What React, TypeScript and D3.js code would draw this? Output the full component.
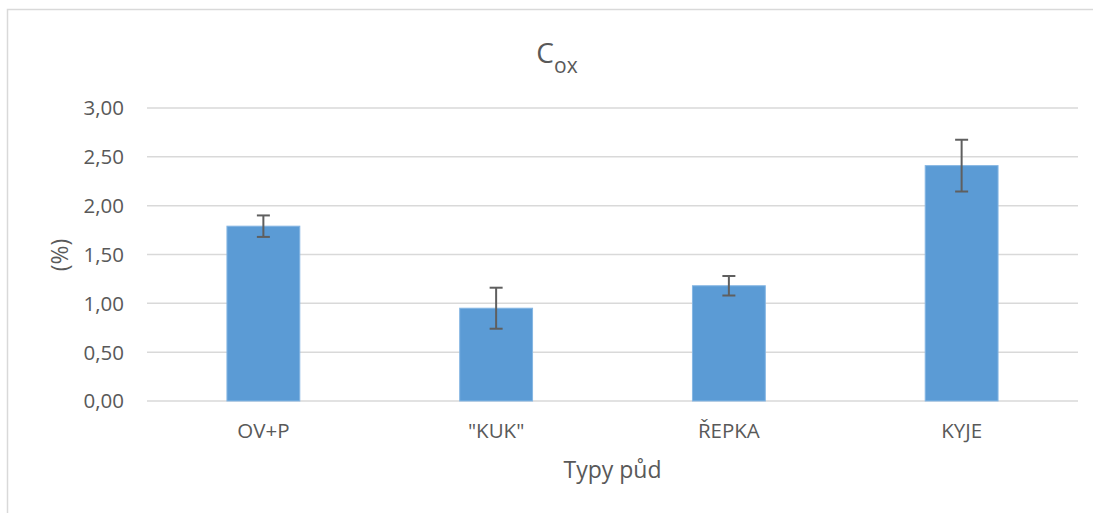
import React from "react";
import * as d3 from "d3";

const categories = ["OV+P", "\"KUK\"", "ŘEPKA", "KYJE"];
const values = [1.79, 0.95, 1.18, 2.41];
const errors = [0.11, 0.21, 0.10, 0.265];
const yTicks = [0, 0.5, 1, 1.5, 2, 2.5, 3];

const W = 1093;
const H = 513;
const FONT = "'Open Sans', 'Liberation Sans', sans-serif";
const TXT = "#595959";

export default function App() {
  const x = d3
    .scaleBand<string>()
    .domain(categories)
    .range([147, 1078])
    .paddingInner(0.687)
    .paddingOuter(0.3435);
  const y = d3.scaleLinear().domain([0, 3]).range([401, 108]);
  const fmt = (v: number) => d3.format(".2f")(v).replace(".", ",");

  return (
    <svg
      width={W}
      height={H}
      style={{ position: "absolute", left: 0, top: 0, background: "#fff" }}
      fontFamily={FONT}
    >
      <rect x={0} y={0} width={W} height={H} fill="#fff" />
      {/* chart frame */}
      <path d={`M7.5,${H} V9.5 H${W + 2}`} fill="none" stroke="#d9d9d9" strokeWidth={1.5} />

      {/* title */}
      <text x={557} y={63} textAnchor="middle" fill={TXT} fontSize={28}>
        C<tspan fontSize={21} dy={10}>ox</tspan>
      </text>

      {/* gridlines */}
      {yTicks.map((t) => (
        <line
          key={t}
          x1={147}
          x2={1078}
          y1={y(t)}
          y2={y(t)}
          stroke="#d9d9d9"
          strokeWidth={1.5}
        />
      ))}
      {yTicks.map((t) => (
        <text
          key={"l" + t}
          x={124}
          y={y(t)}
          dy="0.36em"
          textAnchor="end"
          fill={TXT}
          fontSize={20.5}
        >
          {fmt(t)}
        </text>
      ))}

      {/* bars */}
      {categories.map((c, i) => (
        <rect
          key={c}
          x={x(c)}
          y={y(values[i])}
          width={x.bandwidth()}
          height={y(0) - y(values[i])}
          fill="#5b9bd5"
          stroke="#85b6e3"
          strokeWidth={1}
        />
      ))}

      {/* error bars */}
      {categories.map((c, i) => {
        const cx = (x(c) as number) + x.bandwidth() / 2;
        const top = y(values[i] + errors[i]);
        const bot = y(values[i] - errors[i]);
        return (
          <g key={"e" + c} stroke="#5f5f5f" strokeWidth={2}>
            <line x1={cx} x2={cx} y1={top} y2={bot} />
            <line x1={cx - 6.5} x2={cx + 6.5} y1={top} y2={top} />
            <line x1={cx - 6.5} x2={cx + 6.5} y1={bot} y2={bot} />
          </g>
        );
      })}

      {/* x labels */}
      {categories.map((c) => (
        <text
          key={"x" + c}
          x={(x(c) as number) + x.bandwidth() / 2}
          y={438}
          textAnchor="middle"
          fill={TXT}
          fontSize={20.5}
        >
          {c}
        </text>
      ))}

      {/* axis titles */}
      <text x={612.5} y={478} textAnchor="middle" fill={TXT} fontSize={23}>
        Typy půd
      </text>
      <text
        transform="translate(68,255) rotate(-90)"
        textAnchor="middle"
        fill={TXT}
        fontSize={23}
      >
        (%)
      </text>
    </svg>
  );
}
